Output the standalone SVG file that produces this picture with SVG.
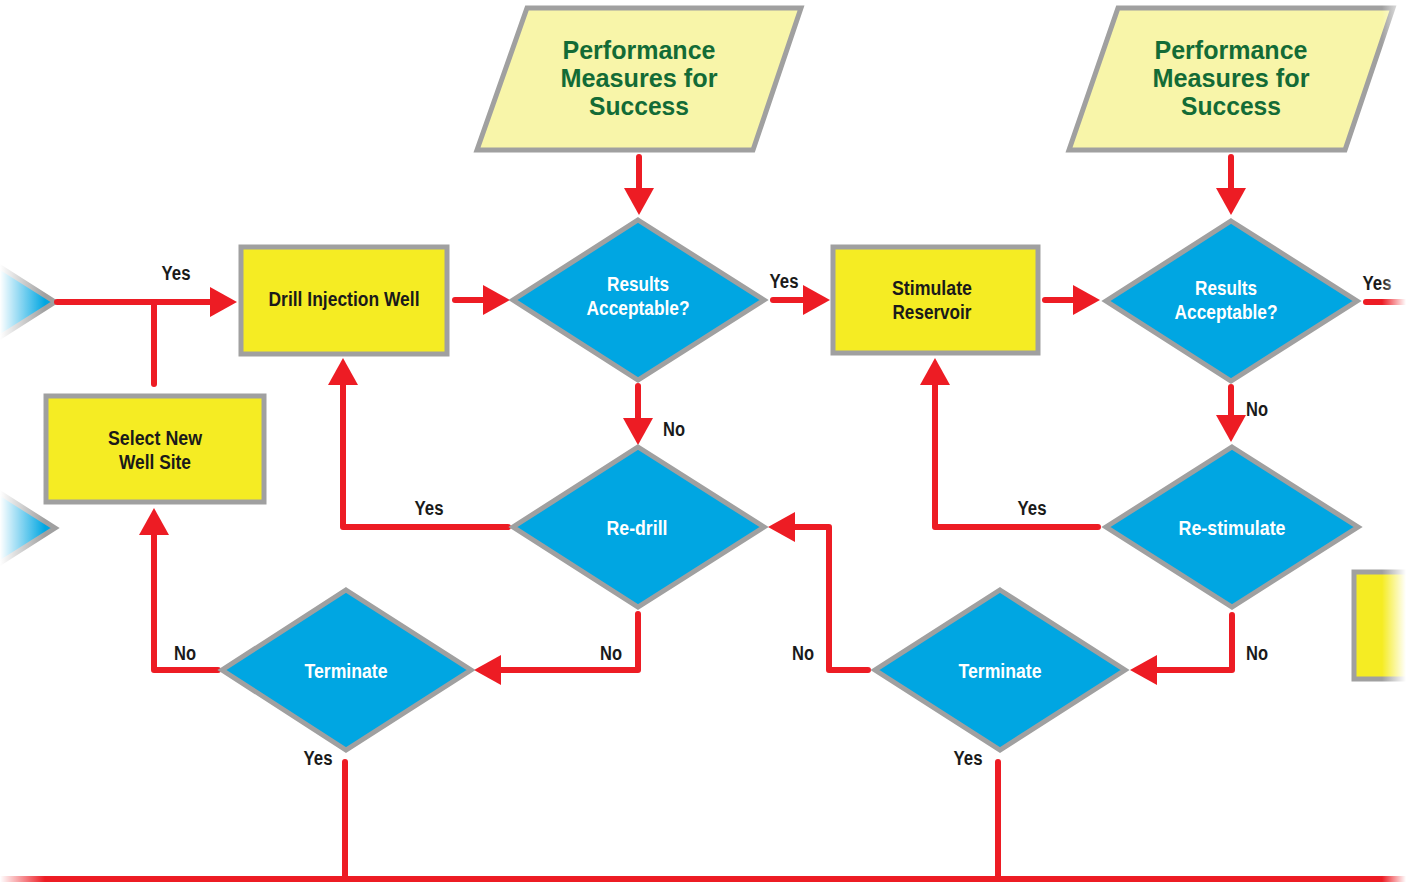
<svg xmlns="http://www.w3.org/2000/svg" width="1406" height="882" viewBox="0 0 1406 882">
<defs>
<style>
.box{fill:#f5ec23;stroke:#a0a0a0;stroke-width:5}
.para{fill:#f8f5a9;stroke:#a0a0a0;stroke-width:5}
.dia{fill:#00a6e2;stroke:#a0a0a0;stroke-width:5;stroke-linejoin:miter}
.t{font-family:"Liberation Sans Narrow","Liberation Sans",Arial,sans-serif;font-weight:bold;text-anchor:middle}
.dk{fill:#1a1a1a;font-size:21px}
.wt{fill:#ffffff;font-size:21px}
.gr{fill:#136b36;font-size:25px}
.lbl{fill:#1a1a1a;font-size:20px}
.c{fill:none;stroke:#ed1c24;stroke-width:6;stroke-linecap:round;stroke-linejoin:round}
.ca{marker-end:url(#ah)}
</style>
<marker id="ah" markerUnits="userSpaceOnUse" markerWidth="28" markerHeight="30" refX="2" refY="15" orient="auto" viewBox="0 0 28 30">
<path d="M0,0 L27,15 L0,30 z" fill="#ed1c24"/>
</marker>
<linearGradient id="fadeL" x1="0" y1="0" x2="1" y2="0">
<stop offset="0" stop-color="#fff" stop-opacity="1"/>
<stop offset="1" stop-color="#fff" stop-opacity="0"/>
</linearGradient>
<linearGradient id="fadeR" x1="0" y1="0" x2="1" y2="0">
<stop offset="0" stop-color="#fff" stop-opacity="0"/>
<stop offset="1" stop-color="#fff" stop-opacity="1"/>
</linearGradient>
</defs>
<rect width="1406" height="882" fill="#ffffff"/>

<g id="edge-left-top"><polygon class="dia" points="-71,222 55,302 -71,382 -197,302"/></g>
<g id="edge-left-mid"><polygon class="dia" points="-71,448 55,528 -71,608 -197,528"/></g>
<g id="edge-right-box"><rect class="box" x="1354" y="572" width="80" height="107"/></g>

<g id="connectors">
<path class="c ca" d="M57,302 H212"/>
<path class="c" d="M154,384 V302"/>
<path class="c ca" d="M455,300 H485"/>
<path class="c ca" d="M639,157 V190"/>
<path class="c ca" d="M638,386 V420"/>
<path class="c ca" d="M773,300 H805"/>
<path class="c ca" d="M508,527 H343 V383"/>
<path class="c ca" d="M638,614 V670 H499"/>
<path class="c ca" d="M218,670 H154 V533"/>
<path class="c" d="M345,762 V880"/>
<path class="c" d="M998,762 V880" />
<path class="c" d="M0,879 H1406" style="stroke-linecap:butt"/>
<path class="c ca" d="M1045,300 H1075"/>
<path class="c ca" d="M1231,157 V190"/>
<path class="c ca" d="M1231,387 V417"/>
<path class="c" d="M1366,302 H1410"/>
<path class="c ca" d="M1098,527 H935 V383"/>
<path class="c ca" d="M1232,615 V670 H1155"/>
<path class="c ca" d="M868,670 H829 V527 H793"/>
</g>

<g id="perf1">
<polygon class="para" points="527,8 801,8 753,150 477,150"/>
<text class="t gr" x="639" y="59" textLength="153" lengthAdjust="spacingAndGlyphs">Performance</text>
<text class="t gr" x="639" y="87" textLength="157" lengthAdjust="spacingAndGlyphs">Measures for</text>
<text class="t gr" x="639" y="115" textLength="100" lengthAdjust="spacingAndGlyphs">Success</text>
</g>
<g id="perf2">
<polygon class="para" points="1118,8 1393,8 1345,150 1069,150"/>
<text class="t gr" x="1231" y="59" textLength="153" lengthAdjust="spacingAndGlyphs">Performance</text>
<text class="t gr" x="1231" y="87" textLength="157" lengthAdjust="spacingAndGlyphs">Measures for</text>
<text class="t gr" x="1231" y="115" textLength="100" lengthAdjust="spacingAndGlyphs">Success</text>
</g>

<g id="drill">
<rect class="box" x="241" y="247" width="206" height="107"/>
<text class="t dk" x="344" y="306" textLength="151" lengthAdjust="spacingAndGlyphs">Drill Injection Well</text>
</g>
<g id="select">
<rect class="box" x="46" y="396" width="218" height="106"/>
<text class="t dk" x="155" y="445" textLength="94" lengthAdjust="spacingAndGlyphs">Select New</text>
<text class="t dk" x="155" y="469" textLength="72" lengthAdjust="spacingAndGlyphs">Well Site</text>
</g>
<g id="stimulate">
<rect class="box" x="833" y="247" width="205" height="106"/>
<text class="t dk" x="932" y="295" textLength="80" lengthAdjust="spacingAndGlyphs">Stimulate</text>
<text class="t dk" x="932" y="319" textLength="79" lengthAdjust="spacingAndGlyphs">Reservoir</text>
</g>

<g id="results1">
<polygon class="dia" points="638,220 764,300 638,380 513,300"/>
<text class="t wt" x="638" y="291" textLength="62" lengthAdjust="spacingAndGlyphs">Results</text>
<text class="t wt" x="638" y="315" textLength="103" lengthAdjust="spacingAndGlyphs">Acceptable?</text>
</g>
<g id="redrill">
<polygon class="dia" points="638,447 764,527 638,607 513,527"/>
<text class="t wt" x="637" y="535" textLength="61" lengthAdjust="spacingAndGlyphs">Re-drill</text>
</g>
<g id="terminate1">
<polygon class="dia" points="346,590 471,670 346,750 222,670"/>
<text class="t wt" x="346" y="678" textLength="83" lengthAdjust="spacingAndGlyphs">Terminate</text>
</g>
<g id="results2">
<polygon class="dia" points="1231,221 1357,301 1231,381 1106,301"/>
<text class="t wt" x="1226" y="295" textLength="62" lengthAdjust="spacingAndGlyphs">Results</text>
<text class="t wt" x="1226" y="319" textLength="103" lengthAdjust="spacingAndGlyphs">Acceptable?</text>
</g>
<g id="restimulate">
<polygon class="dia" points="1232,447 1358,527 1232,607 1106,527"/>
<text class="t wt" x="1232" y="535" textLength="107" lengthAdjust="spacingAndGlyphs">Re-stimulate</text>
</g>
<g id="terminate2">
<polygon class="dia" points="1000,590 1125,670 1000,750 875,670"/>
<text class="t wt" x="1000" y="678" textLength="83" lengthAdjust="spacingAndGlyphs">Terminate</text>
</g>

<g id="labels">
<text class="t lbl" x="176" y="280" textLength="29" lengthAdjust="spacingAndGlyphs">Yes</text>
<text class="t lbl" x="784" y="288" textLength="29" lengthAdjust="spacingAndGlyphs">Yes</text>
<text class="t lbl" x="1377" y="290" textLength="29" lengthAdjust="spacingAndGlyphs">Yes</text>
<text class="t lbl" x="674" y="436" textLength="22" lengthAdjust="spacingAndGlyphs">No</text>
<text class="t lbl" x="1257" y="416" textLength="22" lengthAdjust="spacingAndGlyphs">No</text>
<text class="t lbl" x="429" y="515" textLength="29" lengthAdjust="spacingAndGlyphs">Yes</text>
<text class="t lbl" x="1032" y="515" textLength="29" lengthAdjust="spacingAndGlyphs">Yes</text>
<text class="t lbl" x="185" y="660" textLength="22" lengthAdjust="spacingAndGlyphs">No</text>
<text class="t lbl" x="611" y="660" textLength="22" lengthAdjust="spacingAndGlyphs">No</text>
<text class="t lbl" x="803" y="660" textLength="22" lengthAdjust="spacingAndGlyphs">No</text>
<text class="t lbl" x="1257" y="660" textLength="22" lengthAdjust="spacingAndGlyphs">No</text>
<text class="t lbl" x="318" y="765" textLength="29" lengthAdjust="spacingAndGlyphs">Yes</text>
<text class="t lbl" x="968" y="765" textLength="29" lengthAdjust="spacingAndGlyphs">Yes</text>
</g>

<rect x="0" y="0" width="45" height="882" fill="url(#fadeL)"/>
<rect x="1382" y="0" width="24" height="882" fill="url(#fadeR)"/>
</svg>
